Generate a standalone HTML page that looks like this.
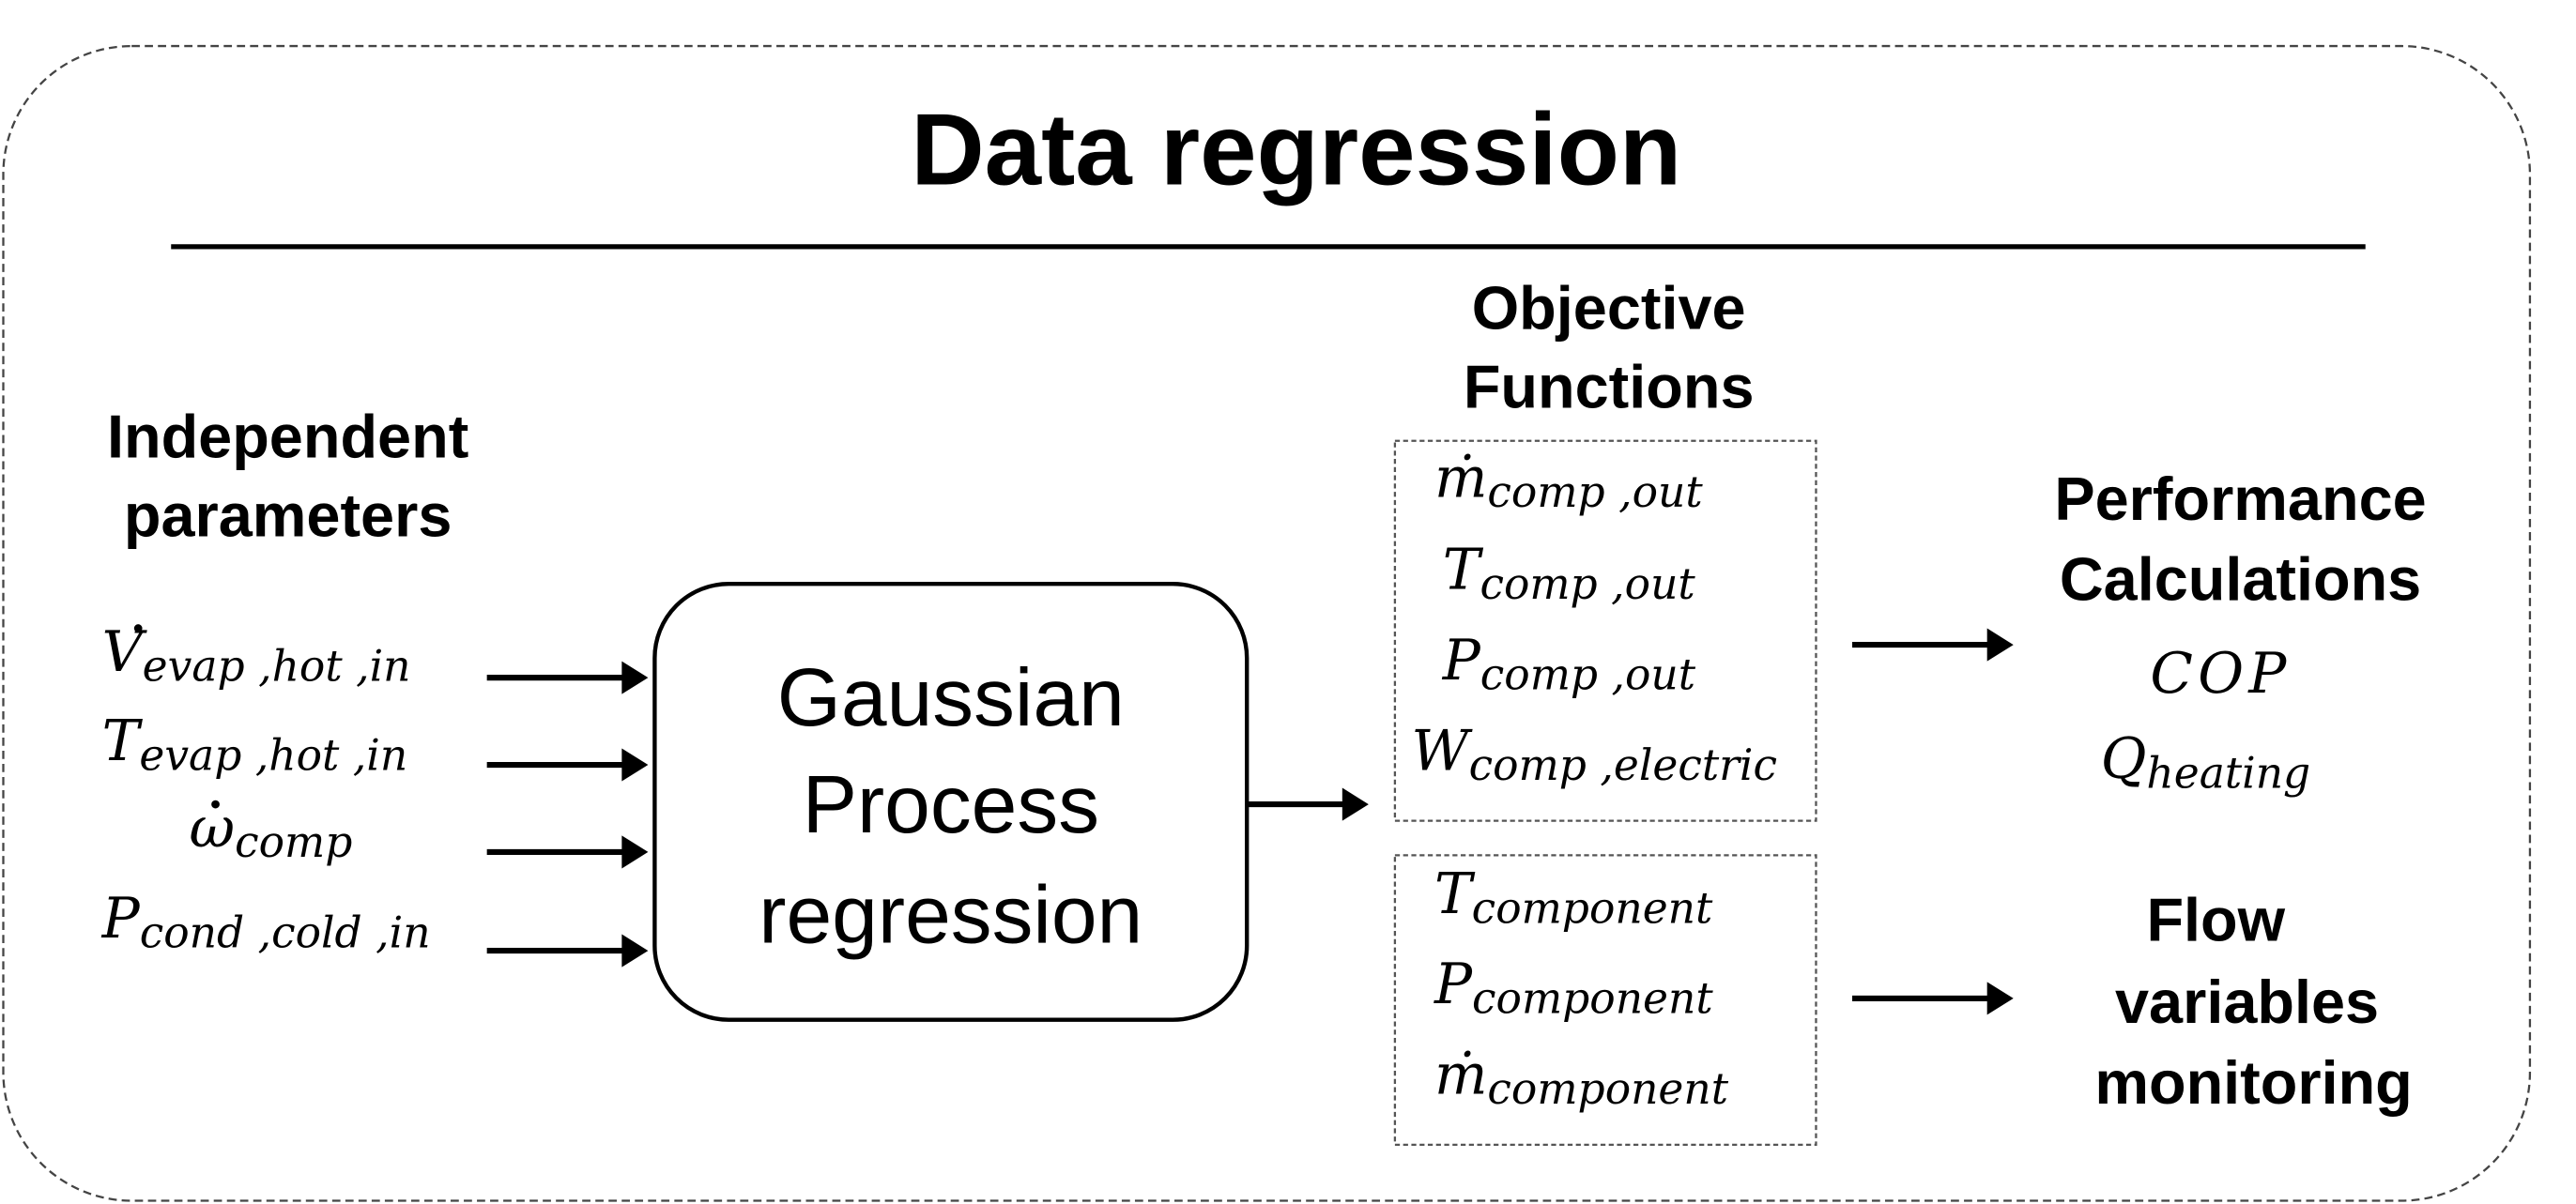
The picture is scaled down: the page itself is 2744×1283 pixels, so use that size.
<!DOCTYPE html>
<html><head><meta charset="utf-8"><style>
html,body{margin:0;padding:0;background:#fff;}
svg{display:block;}
.b{font-family:"Liberation Sans",Arial,sans-serif;font-weight:bold;fill:#000;}
.r{font-family:"Liberation Sans",Arial,sans-serif;fill:#000;}
.m{font-family:"DejaVu Serif","Liberation Serif",serif;font-style:italic;fill:#000;font-size:34px;}
.s{font-size:26px;}
</style></head><body>
<svg width="2744" height="1283" viewBox="0 0 1566 732" preserveAspectRatio="none" xmlns="http://www.w3.org/2000/svg">
<rect x="2" y="28" width="1536" height="702" rx="78" fill="none" stroke="#444" stroke-width="1.3" stroke-dasharray="5,3"/>
<text class="b" x="788" y="112" font-size="62" text-anchor="middle">Data regression</text>
<line x1="104" y1="150" x2="1438" y2="150" stroke="#000" stroke-width="3"/>
<text class="b" x="175" y="278" font-size="37" text-anchor="middle">Independent</text>
<text class="b" x="175" y="326" font-size="37" text-anchor="middle">parameters</text>
<text class="m" x="62" y="408">V<tspan class="s" dy="6">evap ,hot ,in</tspan></text>
<circle cx="84" cy="382" r="2.5"/>
<text class="m" x="62" y="462">T<tspan class="s" dy="6">evap ,hot ,in</tspan></text>
<text class="m" x="115" y="515">ω<tspan class="s" dy="6">comp</tspan></text>
<circle cx="131" cy="489" r="2.5"/>
<text class="m" x="62" y="570">P<tspan class="s" dy="6">cond ,cold ,in</tspan></text>
<g stroke="#000" stroke-width="3.5" fill="#000">
<line x1="296" y1="412" x2="380" y2="412"/><path d="M378,402 L394,412 L378,422z" stroke="none"/>
<line x1="296" y1="465" x2="380" y2="465"/><path d="M378,455 L394,465 L378,475z" stroke="none"/>
<line x1="296" y1="518" x2="380" y2="518"/><path d="M378,508 L394,518 L378,528z" stroke="none"/>
<line x1="296" y1="578" x2="380" y2="578"/><path d="M378,568 L394,578 L378,588z" stroke="none"/>
<line x1="758" y1="489" x2="818" y2="489"/><path d="M816,479 L832,489 L816,499z" stroke="none"/>
<line x1="1126" y1="392" x2="1210" y2="392"/><path d="M1208,382 L1224,392 L1208,402z" stroke="none"/>
<line x1="1126" y1="607" x2="1210" y2="607"/><path d="M1208,597 L1224,607 L1208,617z" stroke="none"/>
</g>
<rect x="398" y="355" width="360" height="265" rx="45" fill="none" stroke="#000" stroke-width="2.5"/>
<text class="r" x="578" y="441" font-size="50" text-anchor="middle">Gaussian</text>
<text class="r" x="578" y="506" font-size="50" text-anchor="middle">Process</text>
<text class="r" x="578" y="573" font-size="50" text-anchor="middle">regression</text>
<text class="b" x="978" y="200" font-size="37" text-anchor="middle">Objective</text>
<text class="b" x="978" y="248" font-size="37" text-anchor="middle">Functions</text>
<rect x="848" y="268" width="256" height="231" fill="none" stroke="#555" stroke-width="1.3" stroke-dasharray="3,2"/>
<rect x="848" y="520" width="256" height="176" fill="none" stroke="#555" stroke-width="1.3" stroke-dasharray="3,2"/>
<text class="m" x="872" y="302">ṁ<tspan class="s" dy="6">comp ,out</tspan></text>
<text class="m" x="877" y="358">T<tspan class="s" dy="6">comp ,out</tspan></text>
<text class="m" x="877" y="413">P<tspan class="s" dy="6">comp ,out</tspan></text>
<text class="m" x="858" y="468">W<tspan class="s" dy="6">comp ,electric</tspan></text>
<text class="m" x="872" y="555">T<tspan class="s" dy="6">component</tspan></text>
<text class="m" x="872" y="610">P<tspan class="s" dy="6">component</tspan></text>
<text class="m" x="872" y="665">ṁ<tspan class="s" dy="6">component</tspan></text>
<text class="b" x="1362" y="316" font-size="37" text-anchor="middle">Performance</text>
<text class="b" x="1362" y="365" font-size="37" text-anchor="middle">Calculations</text>
<text class="m" x="1350" y="421" text-anchor="middle" letter-spacing="3">COP</text>
<text class="m" x="1277" y="473">Q<tspan class="s" dy="6">heating</tspan></text>
<text class="b" x="1347" y="572" font-size="37" text-anchor="middle">Flow</text>
<text class="b" x="1366" y="622" font-size="37" text-anchor="middle">variables</text>
<text class="b" x="1370" y="671" font-size="37" text-anchor="middle">monitoring</text>
</svg>
</body></html>
